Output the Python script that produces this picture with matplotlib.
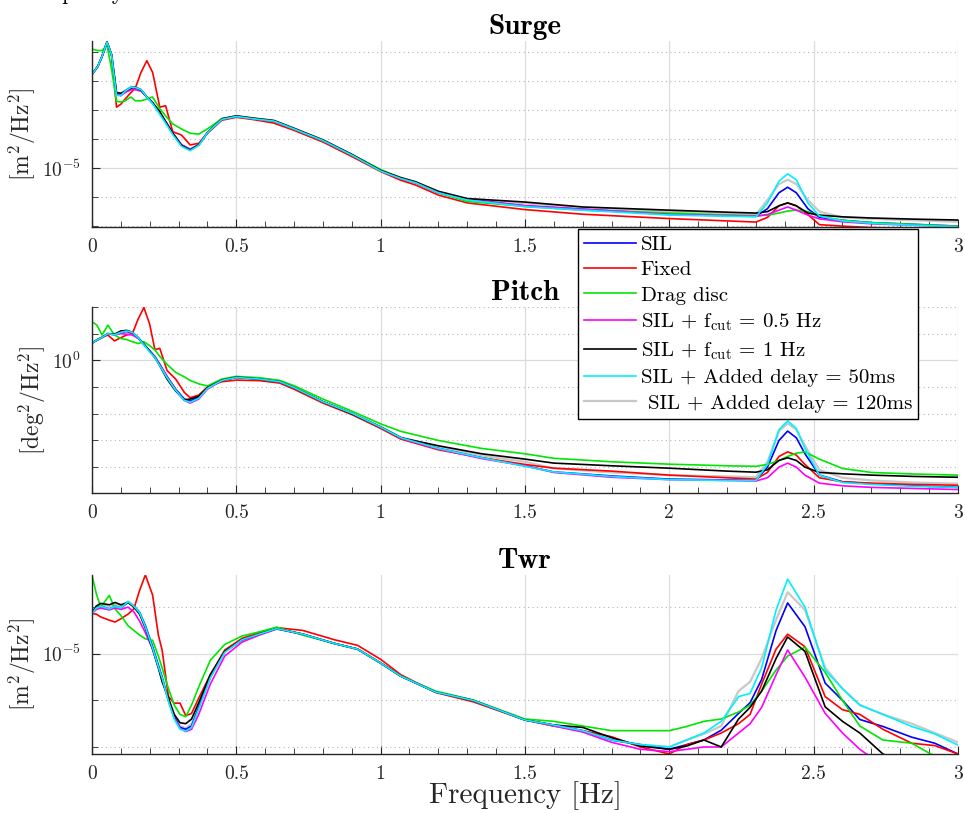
import numpy as np
import matplotlib.pyplot as plt
from matplotlib.ticker import FixedLocator, NullFormatter

plt.rcParams['font.family'] = 'cmr10'
plt.rcParams['mathtext.fontset'] = 'cm'
plt.rcParams['axes.formatter.use_mathtext'] = True

# legend entries and colours
labels = ['SIL', 'Fixed', 'Drag disc',
          r'SIL + f$_{\rm cut}$ = 0.5 Hz', r'SIL + f$_{\rm cut}$ = 1 Hz',
          'SIL + Added delay = 50ms', ' SIL + Added delay = 120ms']
colors = ['#0000ff', '#ff0000', '#00e600', '#ff00ff', '#000000', '#00f0ff', '#c8c8c8']

# ---- Surge PSD, log10 [m^2/Hz^2] ----
f_surge = [0.0, 0.02, 0.035, 0.052, 0.068, 0.085, 0.1, 0.115, 0.135, 0.15,
           0.17, 0.19, 0.21, 0.235, 0.255, 0.28, 0.31, 0.34, 0.37, 0.4,
           0.45, 0.5, 0.56, 0.63, 0.7, 0.8, 0.9, 1.0, 1.07, 1.12,
           1.2, 1.3, 1.5, 1.7, 2.0, 2.2, 2.3, 2.34, 2.38, 2.41,
           2.44, 2.48, 2.52, 2.6, 2.7, 2.85, 3.0]
surge_sil = [-1.77, -1.5, -1.15, -0.66, -1.1, -2.45, -2.5, -2.35, -2.22, -2.22,
             -2.3, -2.55, -2.75, -3.1, -3.4, -3.8, -4.2, -4.36, -4.2, -3.78,
             -3.32, -3.22, -3.3, -3.38, -3.65, -4.05, -4.55, -5.1, -5.36, -5.5,
             -5.85, -6.08, -6.3, -6.42, -6.58, -6.63, -6.66, -6.4, -5.85, -5.66,
             -5.85, -6.4, -6.7, -6.8, -6.88, -6.94, -7.0]
surge_fixed = [-1.77, -1.5, -1.15, -0.66, -1.1, -2.9, -2.8, -2.62, -2.4, -2.25,
               -1.7, -1.3, -1.7, -2.9, -2.85, -3.75, -3.86, -4.2, -4.15, -3.8,
               -3.35, -3.25, -3.33, -3.45, -3.7, -4.1, -4.6, -5.12, -5.42, -5.58,
               -5.93, -6.2, -6.43, -6.59, -6.74, -6.82, -6.86, -6.7, -6.3, -6.2,
               -6.3, -6.6, -6.95, -7.0, -7.05, -7.1, -7.15]
surge_drag = [-0.9, -0.95, -0.95, -0.76, -1.6, -2.7, -2.72, -2.68, -2.55, -2.68,
              -2.68, -2.62, -2.55, -2.95, -3.2, -3.48, -3.65, -3.8, -3.83, -3.65,
              -3.3, -3.22, -3.3, -3.38, -3.65, -4.05, -4.53, -5.05, -5.35, -5.5,
              -5.85, -6.15, -6.32, -6.45, -6.55, -6.62, -6.64, -6.62, -6.55, -6.48,
              -6.45, -6.5, -6.65, -6.8, -6.88, -6.94, -7.0]
surge_cut05 = [-1.77, -1.5, -1.15, -0.66, -1.1, -2.45, -2.5, -2.4, -2.3, -2.3,
               -2.35, -2.55, -2.75, -3.1, -3.4, -3.8, -4.2, -4.36, -4.2, -3.78,
               -3.32, -3.22, -3.3, -3.38, -3.65, -4.05, -4.55, -5.1, -5.36, -5.5,
               -5.85, -6.08, -6.3, -6.42, -6.6, -6.64, -6.66, -6.6, -6.45, -6.34,
               -6.45, -6.62, -6.75, -6.85, -6.92, -6.97, -7.02]
surge_cut1 = [-1.77, -1.5, -1.15, -0.66, -1.1, -2.4, -2.42, -2.35, -2.25, -2.22,
              -2.32, -2.55, -2.75, -3.05, -3.4, -3.8, -4.22, -4.38, -4.2, -3.78,
              -3.3, -3.2, -3.28, -3.36, -3.63, -4.03, -4.53, -5.08, -5.33, -5.47,
              -5.8, -6.05, -6.17, -6.34, -6.45, -6.52, -6.55, -6.5, -6.3, -6.2,
              -6.3, -6.55, -6.62, -6.68, -6.72, -6.76, -6.79]
surge_d50 = [-1.77, -1.5, -1.15, -0.66, -1.1, -2.5, -2.5, -2.35, -2.22, -2.22,
             -2.3, -2.55, -2.78, -3.15, -3.45, -3.85, -4.25, -4.4, -4.22, -3.78,
             -3.32, -3.22, -3.3, -3.38, -3.65, -4.05, -4.55, -5.1, -5.36, -5.5,
             -5.85, -6.1, -6.33, -6.45, -6.62, -6.66, -6.68, -6.2, -5.45, -5.2,
             -5.4, -6.2, -6.65, -6.82, -6.9, -6.97, -7.02]
surge_d120 = [-1.77, -1.5, -1.15, -0.66, -1.1, -2.42, -2.45, -2.32, -2.2, -2.2,
              -2.3, -2.55, -2.75, -3.08, -3.4, -3.8, -4.2, -4.35, -4.2, -3.78,
              -3.3, -3.2, -3.28, -3.36, -3.63, -4.03, -4.53, -5.08, -5.33, -5.47,
              -5.82, -6.07, -6.22, -6.38, -6.5, -6.56, -6.6, -6.1, -5.55, -5.4,
              -5.55, -6.1, -6.5, -6.7, -6.75, -6.8, -6.85]

# ---- Pitch PSD, log10 [deg^2/Hz^2] ----
f_pitch = [0.0, 0.017, 0.035, 0.055, 0.078, 0.1, 0.12, 0.14, 0.16, 0.18,
           0.2, 0.218, 0.235, 0.26, 0.29, 0.32, 0.34, 0.37, 0.4, 0.45,
           0.5, 0.58, 0.65, 0.7, 0.8, 0.9, 1.0, 1.07, 1.2, 1.35,
           1.5, 1.6, 1.8, 2.0, 2.2, 2.3, 2.34, 2.38, 2.41, 2.44,
           2.47, 2.52, 2.6, 2.7, 2.85, 3.0]
pitch_sil = [0.65, 0.76, 0.86, 1.0, 0.96, 1.05, 1.08, 1.02, 0.85, 0.6,
             0.35, 0.14, -0.15, -0.6, -1.08, -1.45, -1.52, -1.4, -1.05, -0.75,
             -0.64, -0.7, -0.8, -1.02, -1.55, -1.98, -2.5, -2.9, -3.3, -3.65,
             -3.95, -4.18, -4.33, -4.45, -4.48, -4.49, -4.0, -3.0, -2.65, -2.9,
             -3.5, -4.3, -4.55, -4.62, -4.7, -4.76]
pitch_fixed = [0.65, 0.76, 0.86, 0.95, 0.73, 0.85, 0.95, 1.0, 1.55, 1.98,
               1.35, 0.4, 0.45, -0.38, -0.7, -1.2, -1.4, -1.3, -1.0, -0.8,
               -0.74, -0.76, -0.85, -1.08, -1.6, -2.03, -2.55, -2.95, -3.35, -3.65,
               -3.9, -4.04, -4.15, -4.3, -4.4, -4.45, -4.2, -3.6, -3.43, -3.55,
               -3.9, -4.4, -4.55, -4.6, -4.65, -4.68]
pitch_drag = [1.45, 1.32, 0.95, 1.32, 0.95, 0.82, 0.78, 0.7, 0.63, 0.7,
              0.55, 0.39, 0.15, -0.15, -0.45, -0.62, -0.75, -0.88, -0.96, -0.7,
              -0.6, -0.65, -0.75, -0.95, -1.45, -1.9, -2.38, -2.66, -3.0, -3.3,
              -3.5, -3.67, -3.8, -3.89, -3.95, -3.97, -3.9, -3.75, -3.6, -3.48,
              -3.43, -3.7, -4.05, -4.2, -4.26, -4.3]
pitch_cut05 = [0.65, 0.76, 0.86, 1.0, 0.96, 1.0, 0.98, 0.95, 0.82, 0.6,
               0.35, 0.14, -0.15, -0.62, -1.1, -1.5, -1.6, -1.45, -1.08, -0.75,
               -0.64, -0.7, -0.8, -1.02, -1.55, -1.98, -2.5, -2.92, -3.32, -3.68,
               -3.95, -4.2, -4.38, -4.47, -4.5, -4.52, -4.4, -4.0, -3.85, -4.0,
               -4.3, -4.6, -4.7, -4.76, -4.8, -4.84]
pitch_cut1 = [0.65, 0.76, 0.86, 1.0, 0.98, 1.1, 1.12, 1.05, 0.85, 0.6,
              0.35, 0.1, -0.2, -0.7, -1.15, -1.48, -1.45, -1.35, -1.02, -0.74,
              -0.63, -0.7, -0.8, -1.02, -1.55, -2.0, -2.5, -2.9, -3.2, -3.5,
              -3.7, -3.85, -3.95, -4.04, -4.15, -4.19, -4.1, -3.75, -3.65, -3.75,
              -4.0, -4.2, -4.25, -4.3, -4.35, -4.38]
pitch_d50 = [0.65, 0.76, 0.86, 1.0, 0.96, 1.05, 1.1, 1.05, 0.85, 0.58,
             0.32, 0.1, -0.2, -0.65, -1.12, -1.5, -1.57, -1.42, -1.05, -0.75,
             -0.64, -0.7, -0.8, -1.02, -1.55, -1.98, -2.5, -2.9, -3.3, -3.65,
             -3.97, -4.18, -4.35, -4.47, -4.5, -4.5, -3.9, -2.6, -2.27, -2.55,
             -3.3, -4.3, -4.58, -4.65, -4.72, -4.76]
pitch_d120 = [0.65, 0.76, 0.86, 1.0, 0.98, 1.08, 1.12, 1.06, 0.85, 0.6,
              0.35, 0.12, -0.18, -0.65, -1.1, -1.48, -1.52, -1.4, -1.04, -0.74,
              -0.63, -0.7, -0.8, -1.02, -1.55, -1.98, -2.48, -2.88, -3.25, -3.57,
              -3.8, -4.05, -4.2, -4.3, -4.35, -4.38, -3.8, -2.65, -2.36, -2.6,
              -3.2, -4.1, -4.4, -4.5, -4.58, -4.62]

# ---- Tower PSD, log10 [m^2/Hz^2] ----
f_twr = [0.0, 0.015, 0.03, 0.06, 0.08, 0.1, 0.125, 0.145, 0.165, 0.185,
         0.21, 0.23, 0.243, 0.265, 0.285, 0.305, 0.325, 0.345, 0.37, 0.41,
         0.46, 0.52, 0.58, 0.64, 0.73, 0.84, 0.92, 1.0, 1.07, 1.19,
         1.32, 1.5, 1.6, 1.7, 1.8, 1.9, 2.0, 2.06, 2.12, 2.18,
         2.24, 2.28, 2.32, 2.37, 2.41, 2.47, 2.54, 2.6, 2.66, 2.74,
         2.84, 2.92, 3.0]
twr_sil = [-4.14, -4.02, -3.98, -4.04, -3.98, -4.02, -3.9, -3.98, -4.12, -4.4,
           -4.85, -5.25, -5.5, -6.0, -6.35, -6.58, -6.62, -6.55, -6.15, -5.5,
           -4.95, -4.7, -4.58, -4.46, -4.58, -4.78, -4.9, -5.2, -5.48, -5.82,
           -6.0, -6.42, -6.53, -6.65, -6.85, -6.95, -7.05, -6.95, -6.85, -6.64,
           -6.28, -6.05, -5.55, -4.5, -3.91, -4.42, -5.63, -6.0, -6.41, -6.56,
           -6.79, -6.92, -7.15]
twr_fixed = [-4.14, -4.15, -4.21, -4.28, -4.32, -4.25, -4.15, -4.04, -3.64, -3.31,
             -3.74, -4.6, -4.92, -5.92, -6.06, -6.06, -6.33, -6.28, -5.95, -5.45,
             -4.92, -4.67, -4.55, -4.44, -4.5, -4.7, -4.82, -5.12, -5.45, -5.83,
             -6.03, -6.42, -6.55, -6.65, -6.78, -7.0, -7.15, -6.95, -6.85, -6.7,
             -6.5, -6.3, -5.65, -4.9, -4.58, -4.85, -5.92, -6.2, -6.3, -6.62,
             -6.92, -6.97, -7.15]
twr_drag = [-3.31, -3.71, -4.0, -3.75, -4.04, -4.18, -4.4, -4.5, -4.6, -4.68,
            -4.71, -5.05, -5.3, -5.75, -6.1, -6.3, -6.35, -6.1, -5.71, -5.14,
            -4.8, -4.62, -4.53, -4.43, -4.6, -4.78, -4.9, -5.2, -5.48, -5.8,
            -5.99, -6.4, -6.45, -6.55, -6.65, -6.65, -6.65, -6.56, -6.45, -6.4,
            -6.25, -6.1, -5.8, -5.35, -5.05, -4.86, -5.4, -6.0, -6.55, -6.85,
            -6.92, -7.2, -7.4]
twr_cut05 = [-4.14, -4.05, -4.02, -4.06, -4.02, -4.05, -4.0, -4.1, -4.3, -4.55,
             -4.9, -5.3, -5.55, -6.0, -6.38, -6.6, -6.67, -6.62, -6.3, -5.65,
             -5.05, -4.75, -4.6, -4.47, -4.58, -4.78, -4.9, -5.2, -5.48, -5.82,
             -6.0, -6.42, -6.55, -6.68, -6.9, -7.05, -7.1, -7.05, -7.0, -7.0,
             -6.7, -6.5, -6.15, -5.45, -4.92, -5.5, -6.28, -6.7, -7.05, -7.4,
             -7.6, -7.7, -7.8]
twr_cut1 = [-4.12, -3.98, -3.92, -3.95, -3.9, -3.95, -3.9, -4.0, -4.15, -4.45,
            -4.9, -5.3, -5.6, -5.95, -6.3, -6.48, -6.5, -6.4, -6.05, -5.45,
            -4.95, -4.7, -4.58, -4.46, -4.58, -4.78, -4.9, -5.2, -5.48, -5.82,
            -6.0, -6.42, -6.53, -6.58, -6.8, -6.98, -7.05, -6.98, -6.85, -7.0,
            -6.4, -6.15, -5.8, -5.1, -4.64, -4.95, -6.14, -6.45, -6.7, -7.15,
            -7.4, -7.6, -7.8]
twr_d50 = [-4.14, -4.02, -3.98, -4.04, -3.98, -4.02, -3.88, -3.98, -4.12, -4.42,
           -4.88, -5.28, -5.52, -6.02, -6.4, -6.62, -6.66, -6.58, -6.18, -5.52,
           -4.97, -4.7, -4.58, -4.46, -4.58, -4.78, -4.9, -5.2, -5.48, -5.82,
           -6.0, -6.42, -6.53, -6.65, -6.85, -6.95, -7.0, -6.85, -6.7, -6.45,
           -5.92, -5.85, -5.3, -4.06, -3.4, -4.0, -5.35, -5.75, -6.1, -6.3,
           -6.56, -6.72, -6.96]
twr_d120 = [-4.12, -3.98, -3.95, -4.0, -3.95, -3.98, -3.88, -3.96, -4.1, -4.4,
            -4.85, -5.25, -5.5, -6.0, -6.35, -6.55, -6.6, -6.5, -6.12, -5.5,
            -4.95, -4.7, -4.58, -4.46, -4.58, -4.78, -4.9, -5.2, -5.48, -5.82,
            -6.0, -6.42, -6.53, -6.65, -6.85, -6.95, -7.0, -6.85, -6.72, -6.55,
            -5.8, -5.6, -5.1, -4.27, -3.68, -4.06, -5.3, -5.75, -6.1, -6.3,
            -6.5, -6.7, -6.9]

panels = [
    ('Surge', r'[m$^2$/Hz$^2$]', f_surge,
     [surge_sil, surge_fixed, surge_drag, surge_cut05, surge_cut1, surge_d50, surge_d120],
     (-7.03, -0.62), [-5], r'$10^{-5}$', [0.0953, 0.7208, 0.8974, 0.2288]),
    ('Pitch', r'[deg$^2$/Hz$^2$]', f_pitch,
     [pitch_sil, pitch_fixed, pitch_drag, pitch_cut05, pitch_cut1, pitch_d50, pitch_d120],
     (-4.97, 2.0), [0], r'$10^{0}$', [0.0953, 0.3936, 0.8974, 0.2288]),
    ('Twr', r'[m$^2$/Hz$^2$]', f_twr,
     [twr_sil, twr_fixed, twr_drag, twr_cut05, twr_cut1, twr_d50, twr_d120],
     (-7.15, -3.31), [-5], r'$10^{-5}$', [0.0953, 0.0726, 0.8974, 0.2202]),
]

fig = plt.figure(figsize=(9.65, 8.13), dpi=100)
tick_col = '#262626'
handles = []

for title, ylab, freq, series, ylim, major, majlab, pos in panels:
    ax = fig.add_axes(pos)
    for i, vals in enumerate(series):
        z = 1.5 if i == 6 else 2 + i * 0.1
        lw = 1.6 if i == 6 else 1.2
        ln, = ax.semilogy(freq, 10.0 ** np.array(vals), color=colors[i], lw=lw, zorder=z)
        if title == 'Surge':
            handles.append(ln)
    ax.set_xlim(0, 3)
    ax.set_ylim(10.0 ** ylim[0], 10.0 ** ylim[1])
    ax.set_xticks(np.arange(0, 3.01, 0.5))
    ax.set_xticklabels(['0', '0.5', '1', '1.5', '2', '2.5', '3'])
    ax.xaxis.set_minor_locator(FixedLocator(np.arange(0.1, 3.0, 0.1)))
    ax.set_yticks([10.0 ** m for m in major])
    ax.set_yticklabels([majlab])
    decades = [10.0 ** k for k in range(int(np.floor(ylim[0])), int(np.ceil(ylim[1])) + 1)
               if k not in major]
    ax.yaxis.set_minor_locator(FixedLocator(decades))
    ax.yaxis.set_minor_formatter(NullFormatter())
    ax.grid(True, which='major', color='#dcdcdc', lw=0.9)
    ax.yaxis.grid(True, which='minor', color='#b4b4b4', ls=(0, (1, 3)), lw=0.8)
    ax.set_axisbelow(True)
    for s in ['top', 'right']:
        ax.spines[s].set_visible(False)
    for s in ['left', 'bottom']:
        ax.spines[s].set_color(tick_col)
        ax.spines[s].set_linewidth(1.0)
    ax.tick_params(which='both', direction='in', colors=tick_col, labelsize=14,
                   labelcolor=tick_col)
    ax.tick_params(which='major', length=6, pad=8)
    ax.tick_params(which='minor', length=4)
    ax.set_title(title, fontfamily='cmb10', fontsize=21, pad=5)
    ax.set_ylabel(ylab, fontsize=17, color=tick_col, labelpad=3)
    if title == 'Twr':
        ax.set_xlabel('Frequency [Hz]', fontsize=21, color=tick_col, labelpad=-1)

fig.legend(handles, labels, loc='upper left', bbox_to_anchor=(0.599, 0.7183),
           bbox_transform=fig.transFigure, fontsize=15, frameon=True, fancybox=False,
           edgecolor='black', framealpha=1, borderaxespad=0, borderpad=0.3,
           handlelength=2.5, handletextpad=0.2, labelspacing=0.33)

fig.text(-0.01, 0.9995, 'low-frequency models.', fontsize=16, va='baseline')

fig.savefig('out.png', dpi=100)
